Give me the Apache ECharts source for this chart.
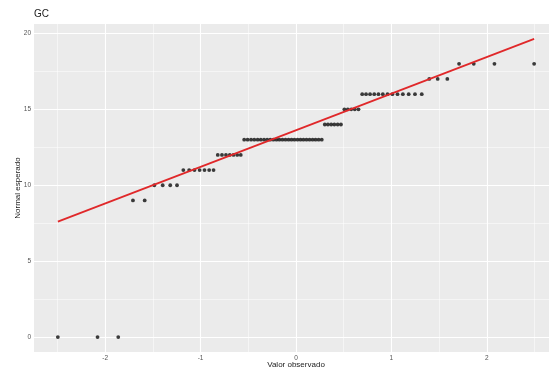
<!DOCTYPE html>
<html>
<head>
<meta charset="utf-8">
<title>GC</title>
<script src="https://cdn.jsdelivr.net/npm/echarts@6/dist/echarts.min.js"></script>
<style>
  html, body { margin: 0; padding: 0; background: #ffffff; }
  #chart { width: 549px; height: 368px; }
</style>
</head>
<body>
<div id="chart"></div>
<script>
// Theoretical normal quantiles (horizontal position of each point)
var theoretical = [
  -2.496, -2.080, -1.863, -1.709, -1.586, -1.485, -1.397, -1.318, -1.247, -1.181,
  -1.120, -1.064, -1.010, -0.959, -0.910, -0.864, -0.820, -0.776, -0.734, -0.694,
  -0.655, -0.616, -0.579, -0.543, -0.507, -0.471, -0.437, -0.402, -0.369, -0.335,
  -0.302, -0.270, -0.237, -0.205, -0.174, -0.142, -0.110, -0.078, -0.047, -0.016,
   0.016,  0.047,  0.078,  0.110,  0.142,  0.174,  0.205,  0.237,  0.270,  0.302,
   0.335,  0.369,  0.402,  0.437,  0.471,  0.507,  0.543,  0.579,  0.616,  0.655,
   0.694,  0.734,  0.776,  0.820,  0.864,  0.910,  0.959,  1.010,  1.064,  1.120,
   1.181,  1.247,  1.318,  1.397,  1.485,  1.586,  1.709,  1.863,  2.080,  2.496
];

// Sorted GC scores
var sample = [
  0, 0, 0, 9, 9, 10, 10, 10, 10, 11,
  11, 11, 11, 11, 11, 11, 12, 12, 12, 12,
  12, 12, 12, 13, 13, 13, 13, 13, 13, 13,
  13, 13, 13, 13, 13, 13, 13, 13, 13, 13,
  13, 13, 13, 13, 13, 13, 13, 13, 13, 14,
  14, 14, 14, 14, 14, 15, 15, 15, 15, 15,
  16, 16, 16, 16, 16, 16, 16, 16, 16, 16,
  16, 16, 16, 17, 17, 17, 18, 18, 18, 18
];

// Reference line through the quartiles
var refLineX = [-2.496, 2.496];
var refLineY = [7.61, 19.64];

// Tick labels and grid positions
var xTicks = [-2, -1, 0, 1, 2];
var yTicks = [0, 5, 10, 15, 20];
var xMinor = [-2.5, -1.5, -0.5, 0.5, 1.5, 2.5];
var yMinor = [2.5, 7.5, 12.5, 17.5];

var points = theoretical.map(function (x, i) { return [x, sample[i]]; });
var lineData = refLineX.map(function (x, i) { return [x, refLineY[i]]; });

function gridLines(values, axisKey, width) {
  return values.map(function (v) {
    var d = {};
    d[axisKey] = v;
    d.lineStyle = { color: '#ffffff', width: width, type: 'solid' };
    return d;
  });
}

var chart = echarts.init(document.getElementById('chart'), null, { renderer: 'canvas' });

chart.setOption({
  animation: false,
  backgroundColor: '#ffffff',
  title: {
    text: 'GC',
    left: 34,
    top: 9,
    padding: 0,
    textStyle: { fontSize: 10, fontWeight: 'normal', color: '#1a1a1a', fontFamily: 'Liberation Sans, Arial, sans-serif' }
  },
  grid: {
    left: 34,
    top: 24,
    width: 524,
    height: 328,
    show: true,
    backgroundColor: '#ebebeb',
    borderWidth: 0,
    containLabel: false,
    outerBoundsMode: 'none'
  },
  xAxis: {
    type: 'value',
    min: -2.746,
    max: 2.746,
    name: 'Valor observado',
    nameLocation: 'middle',
    nameGap: 9,
    nameMoveOverlap: false,
    nameTextStyle: { fontSize: 8, color: '#1a1a1a', fontFamily: 'Liberation Sans, Arial, sans-serif' },
    axisLine: { show: false },
    axisTick: { show: true, customValues: xTicks, length: 3, lineStyle: { color: '#444', width: 0.8 } },
    axisLabel: {
      customValues: xTicks,
      fontSize: 6.5,
      margin: 3,
      color: '#555',
      fontFamily: 'Liberation Sans, Arial, sans-serif'
    },
    splitLine: { show: false }
  },
  yAxis: {
    type: 'value',
    min: -0.982,
    max: 20.62,
    name: 'Normal esperado',
    nameLocation: 'middle',
    nameRotate: 90,
    nameGap: 12,
    nameMoveOverlap: false,
    nameTextStyle: { fontSize: 8, color: '#1a1a1a', fontFamily: 'Liberation Sans, Arial, sans-serif' },
    axisLine: { show: false },
    axisTick: { show: true, customValues: yTicks, length: 3, lineStyle: { color: '#444', width: 0.8 } },
    axisLabel: {
      customValues: yTicks,
      fontSize: 6.5,
      margin: 3,
      color: '#555',
      fontFamily: 'Liberation Sans, Arial, sans-serif'
    },
    splitLine: { show: false }
  },
  series: [
    {
      // panel grid: minor and major white lines
      type: 'line',
      data: [],
      silent: true,
      z: 1,
      markLine: {
        silent: true,
        z: 1,
        symbol: ['none', 'none'],
        label: { show: false },
        animation: false,
        data: []
          .concat(gridLines(xMinor, 'xAxis', 0.5))
          .concat(gridLines(yMinor, 'yAxis', 0.5))
          .concat(gridLines(xTicks, 'xAxis', 1.1))
          .concat(gridLines(yTicks, 'yAxis', 1.1))
      }
    },
    {
      type: 'scatter',
      data: points,
      symbol: 'circle',
      symbolSize: 3.8,
      itemStyle: { color: '#0d0d0d' },
      z: 3
    },
    {
      type: 'line',
      data: lineData,
      showSymbol: false,
      symbol: 'none',
      lineStyle: { color: '#e0282a', width: 1.8 },
      z: 4
    }
  ]
});
</script>
</body>
</html>
